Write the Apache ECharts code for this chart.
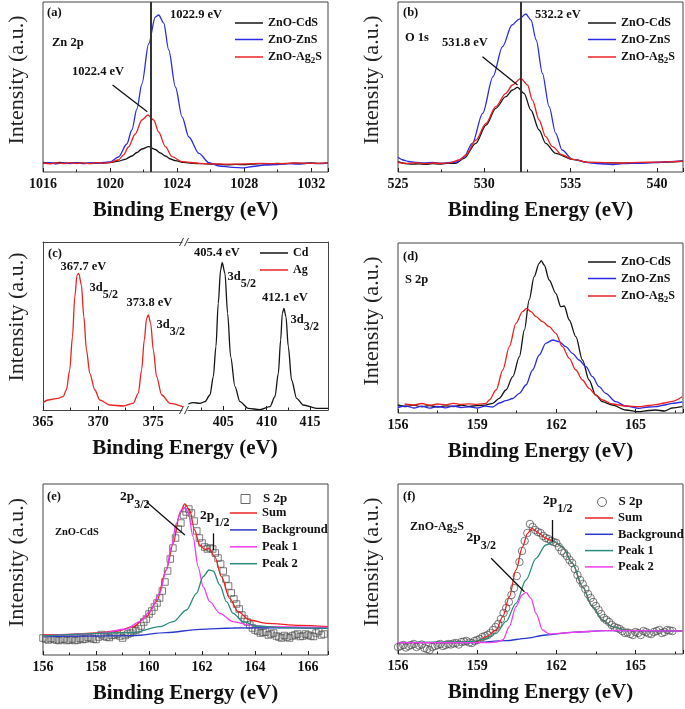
<!DOCTYPE html>
<html><head><meta charset="utf-8">
<script src="https://cdn.jsdelivr.net/npm/echarts@6/dist/echarts.min.js"></script>
<style>html,body{margin:0;padding:0;background:#fff}#c{width:685px;height:709px}</style>
</head><body><div id="c"></div>
<script>
const FONT = 'Liberation Serif';
const BLACK = '#151515', BLUE = '#2b2be6', RED = '#ea2222', MAG = '#f03cf0', TEAL = '#2a8c7c', BGBLUE = '#2a38cc';

// ---- (a) Zn 2p ----
const aCdS = [[1016,9.5],[1016.5,8.8],[1017,9.6],[1017.5,8.7],[1018,9.4],[1018.5,8.6],[1019,9.2],[1019.5,8.9],[1020,9.4],[1020.5,10.8],[1020.9,12.7],[1021.3,16],[1021.6,19.5],[1021.9,23],[1022.3,25.3],[1022.7,22.5],[1023,19],[1023.3,16],[1023.6,13],[1023.9,11.3],[1024.4,9.6],[1024.9,8.7],[1025.5,8.3],[1026,8],[1026.5,7.6],[1027,7.2],[1027.5,7.6],[1028,7.3],[1028.5,7.9],[1029,8.4],[1029.5,8],[1030,8.6],[1030.5,8.2],[1031,8.9],[1031.5,8.5],[1032,9],[1032.5,8.6],[1033,9.1]];
const aZnS = [[1016,8.4],[1016.4,9.3],[1016.8,8.2],[1017.2,9.1],[1017.6,8.5],[1018,9.4],[1018.4,8.3],[1018.8,9.2],[1019.2,8.6],[1019.6,9.5],[1020,10],[1020.5,15],[1021,28],[1021.3,42],[1021.6,63],[1021.9,88],[1022.3,128],[1022.7,155],[1022.9,157],[1023.2,149],[1023.5,122],[1023.9,85],[1024.3,55],[1024.7,35],[1025.3,18.7],[1025.9,9.3],[1026.5,6],[1027.3,4.7],[1028,4.2],[1028.5,5.5],[1029.2,7],[1030,7.5],[1030.6,8.4],[1031.2,7.8],[1031.8,8.9],[1032.4,8.3],[1033,8.8]];
const aAg2S = [[1016,9],[1016.4,8.2],[1016.8,9.2],[1017.2,8.4],[1017.6,9.4],[1018,8.5],[1018.4,9.1],[1018.8,8.3],[1019.2,9.3],[1019.6,8.8],[1020,9.6],[1020.5,12],[1020.8,17],[1021.1,25],[1021.5,38],[1021.9,52],[1022.26,57],[1022.6,52],[1022.9,40],[1023.3,25.3],[1023.7,15.3],[1024.3,10.3],[1025.3,8.7],[1026,8.2],[1027,7.8],[1028,8.1],[1029,8.6],[1030,8.3],[1031,9],[1032,8.7],[1033,9.2]];
const aLineX = 1022.4;
const aArrow = [[1022.22,60.3],[1020.15,87]];

// ---- (b) O 1s ----
const bCdS = [[525,10.3],[525.4,8.5],[525.8,7.8],[526.2,8.2],[526.6,7.6],[527,8.4],[527.4,7.8],[527.8,8.6],[528.35,8.7],[528.83,13.7],[529.5,28.7],[530.1,47],[530.66,63.7],[531.24,75.3],[531.63,82],[531.92,84.7],[532.3,78.7],[532.69,62],[533.17,42],[533.55,28.7],[534.13,18.7],[535.1,12.7],[536.06,9.7],[537,9.2],[538,8.9],[539,9.2],[540,9.6],[541,10.2],[541.5,10.6]];
const bZnS = [[525,14.7],[525.3,12],[525.6,10.5],[526,9.6],[526.5,9],[527,9.6],[527.5,8.8],[528,9.5],[528.4,10],[528.8,14.5],[529.3,28.7],[529.9,58.7],[530.5,95.3],[531.05,125.3],[531.6,147],[532,152.7],[532.4,158],[532.7,152],[533,132],[533.36,98.7],[533.75,65.3],[534.13,38.7],[534.5,22],[535.1,12.7],[536,9.3],[536.5,8.5],[537,8],[537.5,7.5],[538,8.3],[538.5,8.6],[539,8.7],[539.5,9.2],[540,9.5],[540.5,10],[541,10.7],[541.5,11.3]];
const bAg2S = [[525,9.3],[525.5,8.6],[526,9.2],[526.5,8.4],[527,9],[527.5,8.5],[528,9.3],[528.55,12],[528.93,17],[529.51,32],[530.09,48.7],[530.66,65.3],[531.24,78.7],[531.63,87],[532.11,93.7],[532.5,87],[532.78,72],[533.17,52],[533.55,35.3],[533.94,25.3],[534.52,17],[535.1,12.7],[536.06,9.7],[537,9.4],[538,9],[539,9.6],[540,9.9],[541,10.3],[541.5,10.8]];
const bLineX = 532.1;
const bArrow = [[531.92,87],[529.89,115.3]];

// ---- (c) Ag 3d / Cd 3d (broken axis) ----
const cAg = [[365,7.3],[365.45,10],[366.36,11.7],[366.82,13.3],[367.12,20],[367.42,40],[367.67,73],[367.88,113],[368.09,135],[368.24,136.7],[368.48,125],[368.7,93.3],[368.94,60],[369.24,36.7],[369.7,20],[370.15,10],[371.06,5],[372.27,4],[373.18,6.7],[373.64,16.7],[373.94,40],[374.18,70],[374.39,91.7],[374.55,95],[374.76,86.7],[375,60],[375.3,33.3],[375.76,15],[376.52,6.7],[377.67,3.3]];
const cCd = [[400.96,6],[401.54,7.3],[402.31,6.7],[402.88,8.3],[403.46,15],[403.85,33.3],[404.15,63.3],[404.42,106.7],[404.69,140],[404.88,147.3],[405.19,136.7],[405.5,96.7],[405.85,53.3],[406.35,23.3],[406.92,8.3],[407.88,1.7],[409.23,0.3],[410.38,3.3],[410.96,13.3],[411.35,36.7],[411.62,70],[411.81,96.7],[412,101.7],[412.23,93.3],[412.5,63.3],[412.88,30],[413.46,11.7],[414.23,5],[415.77,1.7],[417.08,1.7]];
const cTicksL = [365,370,375], cMinorL = [367.5,372.5];
const cTicksR = [405,410,415], cMinorR = [402.5,407.5,412.5];

// ---- (d) S 2p ----
const dCdS = [[156,8],[156.3,6.5],[156.6,7.8],[156.9,6.2],[157.2,7.5],[157.5,6],[157.8,7.2],[158.1,6.4],[158.4,7.8],[158.7,6.6],[159,7.4],[159.3,7.9],[159.59,9.7],[159.84,14.7],[160.09,23],[160.35,36.3],[160.6,56.3],[160.79,83],[160.97,113],[161.16,136.3],[161.35,149.7],[161.43,152.3],[161.54,148],[161.73,133],[161.98,119.7],[162.17,106.3],[162.3,107],[162.49,93],[162.74,76.3],[162.99,53],[163.24,33],[163.49,18],[163.75,11.3],[164.12,8],[164.63,3],[165.13,1.3],[165.5,2.5],[165.76,3],[166.1,2],[166.39,5],[166.77,6.3]];
const dZnS = [[156,5.5],[156.3,7],[156.6,5],[156.9,6.8],[157.2,4.8],[157.5,6.5],[157.8,5.2],[158.1,7],[158.4,5.5],[158.7,6.2],[159,5],[159.3,6.8],[159.59,6],[159.84,10],[160.09,12.3],[160.35,14.5],[160.6,19.7],[160.85,28],[161.1,43],[161.35,58],[161.6,69.7],[161.86,73],[162.11,71.3],[162.36,66.3],[162.61,59.7],[162.86,53],[163.12,46.3],[163.37,36.3],[163.62,26.3],[163.87,19.7],[164.25,11.3],[164.63,7],[165.13,4.7],[165.5,6],[165.76,6.3],[166.1,8],[166.39,9.7],[166.77,11]];
const dAg2S = [[156.25,9],[156.6,8],[156.9,9.5],[157.2,7.8],[157.5,9],[157.8,8.2],[158.1,9.6],[158.4,8.5],[158.7,9.2],[159,8.7],[159.34,9.6],[159.46,13],[159.72,23],[159.97,43],[160.22,66.3],[160.47,89.7],[160.72,101.3],[160.87,104.7],[161.04,101.3],[161.23,96.3],[161.48,91.3],[161.73,86.3],[161.98,79.7],[162.23,66.3],[162.49,54.7],[162.74,43],[162.99,33],[163.24,24.7],[163.49,18],[163.75,13],[164.12,9],[164.63,7],[165.13,6.3],[165.5,7.5],[165.76,8.3],[166.1,10],[166.39,11.7],[166.77,16.3]];

// ---- (e) ZnO-CdS fit ----
const eData = [[156,17],[156.2,15],[156.4,16],[156.6,14.5],[156.8,16],[157,15],[157.2,14.5],[157.4,16.5],[157.6,16],[157.8,17],[158,15.5],[158.2,20.5],[158.4,18],[158.6,19.5],[158.8,21],[159,17],[159.2,21],[159.4,24],[159.6,26],[159.8,33],[160,41],[160.2,48],[160.4,57],[160.6,73],[160.8,96],[161,117],[161.2,132],[161.4,143],[161.6,142],[161.8,124],[162,112],[162.2,106],[162.4,106],[162.6,97],[162.8,84],[163,69],[163.2,56],[163.4,46],[163.6,36],[163.8,30],[164,25],[164.2,22],[164.4,23],[164.6,21],[164.8,19],[165,17],[165.2,18],[165.4,19],[165.6,21],[165.8,19],[166,20],[166.2,18.5],[166.4,24],[166.6,21]];
const eDataB = [[156.1,16],[156.3,16.5],[156.5,15],[156.7,15.5],[156.9,14.5],[157.1,16],[157.3,15],[157.5,15.5],[157.7,17.5],[157.9,16],[158.1,18],[158.3,19],[158.5,17.5],[158.7,20],[158.9,19],[159.1,19.5],[159.3,22],[159.5,24.5],[159.7,29],[159.9,36],[160.1,44],[160.3,52],[160.5,64],[160.7,84],[160.9,107],[161.1,126],[161.3,140],[161.5,146],[161.7,134],[161.9,117],[162.1,108],[162.3,107],[162.5,102],[162.7,91],[162.9,76],[163.1,62],[163.3,51],[163.5,40],[163.7,33],[163.9,27],[164.1,24],[164.3,22.5],[164.5,20],[164.7,22],[164.9,18],[165.1,19.5],[165.3,17],[165.5,20],[165.7,18.5],[165.9,21],[166.1,19],[166.3,22],[166.5,20]];
const eSum = [[156,20],[157,20.5],[158,22],[158.8,24],[159.4,28.3],[159.9,38.3],[160.28,53.3],[160.65,85],[160.91,111.7],[161.16,141.7],[161.35,151],[161.53,145],[161.72,125],[161.91,110],[162.1,105.7],[162.26,106.7],[162.48,98.3],[162.73,78.3],[163.04,56.7],[163.36,43.3],[163.8,35],[164.43,31.7],[165.69,29.7],[166.75,28.3]];
const eBg = [[156,18.3],[159.4,19.3],[160.65,22.3],[161.91,25.7],[163.17,27],[164.43,27.3],[166.75,26.7]];
const ePeak1 = [[156,19],[158.14,21.7],[159.14,26],[159.65,33.3],[160.03,43.3],[160.4,61.7],[160.65,85],[160.84,108.3],[161.03,131.7],[161.22,145],[161.35,147.7],[161.47,143.3],[161.66,118.3],[161.85,88.3],[162.04,68.3],[162.29,53.3],[162.67,41.7],[163.17,33.3],[163.8,30],[164.43,28.3],[166.75,27.7]];
const ePeak2 = [[156,19],[159.4,22.3],[160.4,28.3],[160.91,33.3],[161.41,45],[161.79,61.7],[162.04,78.3],[162.26,85],[162.42,84],[162.67,70],[162.92,53.3],[163.17,41.7],[163.55,33.3],[164.05,29],[165.06,27.3],[166.75,26.7]];
const eArrow1 = [[161.35,120],[159.9,153.3]];
const eArrow2 = [[162.42,105],[162.42,121.7]];

// ---- (f) ZnO-Ag2S fit ----
const fData = [[156,7],[156.2,9],[156.4,8],[156.6,10],[156.8,8.5],[157,6],[157.2,4],[157.4,8],[157.6,10],[157.8,9],[158,9.5],[158.2,11],[158.4,12],[158.6,13],[158.8,11],[159,14],[159.2,17],[159.4,19],[159.6,24],[159.8,30],[160,41],[160.2,52],[160.4,66],[160.6,92],[160.8,113],[161,130],[161.2,124],[161.4,121],[161.6,116],[161.8,113],[162,111],[162.2,103],[162.4,98],[162.6,91],[162.8,79],[163,70],[163.2,60],[163.4,52],[163.6,44],[163.8,36],[164,32],[164.2,27],[164.4,25],[164.6,21],[164.8,20],[165,22],[165.2,19],[165.4,22],[165.6,20],[165.8,23],[166,21],[166.2,24],[166.4,23]];
const fDataB = [[156.1,8],[156.3,6.5],[156.5,9],[156.7,7],[156.9,9.5],[157.1,5],[157.3,7],[157.5,9],[157.7,8],[157.9,10],[158.1,10.5],[158.3,9.5],[158.5,12.5],[158.7,11.5],[158.9,13],[159.1,15],[159.3,18],[159.5,21],[159.7,27],[159.9,35],[160.1,46],[160.3,59],[160.5,78],[160.7,103],[160.9,121],[161.1,127],[161.3,122],[161.5,118],[161.7,115],[161.9,112],[162.1,107],[162.3,101],[162.5,94],[162.7,85],[162.9,74],[163.1,65],[163.3,56],[163.5,48],[163.7,40],[163.9,34],[164.1,29],[164.3,26],[164.5,23],[164.7,21.5],[164.9,19],[165.1,21],[165.3,23],[165.5,20.5],[165.7,22],[165.9,24],[166.1,22],[166.3,23.5]];
const fSum = [[156,11.3],[157,11.3],[158,11.5],[159,12.5],[159.34,17.3],[159.72,24],[159.97,37.3],[160.22,57.3],[160.47,84],[160.72,107.3],[160.91,120.7],[161.07,125.7],[161.35,120.7],[161.6,115.7],[161.91,112.3],[162.23,107.3],[162.61,90.7],[162.99,67.3],[163.37,47.3],[163.75,34],[164.12,27.3],[164.63,24],[165.13,23.3],[166.39,23.3],[166.77,23.3]];
const fBg = [[156,11.3],[158.83,11.3],[160.09,13.3],[160.85,15.7],[161.6,19],[162.61,21.7],[163.87,23.3],[165.13,23.3],[166.39,23],[166.77,23]];
const fPeak1 = [[156,11.3],[158.83,12.3],[159.34,15.7],[159.72,20.7],[160.09,32.3],[160.47,50.7],[160.85,74],[161.23,95.7],[161.6,109],[161.92,112.3],[162.23,107.3],[162.61,90.7],[162.99,67.3],[163.37,47.3],[163.75,34],[164.12,27.3],[164.63,24],[165.13,23.3],[166.77,23]];
const fPeak2 = [[156,11.3],[159.4,11.3],[159.72,11.8],[159.97,14],[160.22,27.3],[160.47,47.3],[160.7,59],[160.85,61.7],[161.04,55.7],[161.23,40.7],[161.48,24],[161.73,20],[162.2,20.8],[162.61,21.7],[163.87,23.3],[165.13,23.3],[166.77,23]];
const fArrow1 = [[160.79,62.3],[159.53,95.7]];
const fArrow2 = [[161.86,112.3],[161.86,134]];

// ---------------- build ----------------
const XNAME = 'Binding Energy (eV)', YNAME = 'Intensity (a.u.)';
const tickStyle = {color:'#222', width:1};
const labelStyle = {show:true, margin:5, fontSize:14, fontWeight:'bold', fontFamily:FONT, color:'#111', formatter: v => String(v), showMaxLabel:false};
const xNameStyle = {fontSize:21, fontWeight:'bold', fontFamily:FONT, color:'#111'};
const yNameStyle = {fontSize:22, fontFamily:FONT, color:'#222', padding:[0,0,0,14]};

function gridBox(left, top, width, height, border) {
  return {left, top, width, height, show: border, borderColor:'#444', borderWidth:1, backgroundColor:'rgba(0,0,0,0)', outerBoundsMode:'none', containLabel:false};
}
function xStd(gridIndex, min, max, interval) {
  return {type:'value', gridIndex, min, max, interval, position:'bottom',
    axisLine:{show:false, onZero:false}, axisTick:{show:true, inside:true, length:4, lineStyle:tickStyle},
    minorTick:{show:true, splitNumber:2, length:2.5, lineStyle:tickStyle},
    splitLine:{show:false}, minorSplitLine:{show:false}, axisLabel:labelStyle,
    name:XNAME, nameLocation:'middle', nameGap:28, nameMoveOverlap:false, nameTextStyle:xNameStyle};
}
function yStd(gridIndex, max, extra) {
  return Object.assign({type:'value', gridIndex, min:0, max, axisLine:{show:false, onZero:false}, axisTick:{show:false},
    axisLabel:{show:false}, splitLine:{show:false}, name:YNAME, nameLocation:'middle', nameGap:15, nameMoveOverlap:false,
    nameTextStyle:yNameStyle}, extra || {});
}
function xPlain(gridIndex, min, max, position, ticks, minor, withLabel, name) {
  const ax = {type:'value', gridIndex, min, max, position,
    axisLine:{show: !minor, onZero:false, lineStyle:{color:'#444', width:1}},
    axisTick:{show: !!ticks, inside:true, length: minor ? 2.5 : 4, lineStyle:tickStyle, customValues: ticks || []},
    splitLine:{show:false},
    axisLabel: withLabel ? Object.assign({}, labelStyle, {customValues: ticks, showMaxLabel:true, showMinLabel:true}) : {show:false}};
  if (name) { Object.assign(ax, {name, nameLocation:'middle', nameGap:28, nameMoveOverlap:false, nameTextStyle:Object.assign({}, xNameStyle, {padding:[0,0,0,145]})}); }
  return ax;
}
function line(name, data, color, xi, yi, extra) {
  return Object.assign({type:'line', name, data, xAxisIndex:xi, yAxisIndex:yi, symbol:'none', showSymbol:false,
    smooth:0.3, smoothMonotone:'x', lineStyle:{color, width:1.3}, itemStyle:{color}, silent:true, animation:false}, extra || {});
}
function arrowML(pairs) {
  return {markLine:{silent:true, animation:false, symbol:['none','arrow'], symbolSize:[0,8], label:{show:false},
    lineStyle:{color:'#111', width:1.3, type:'solid'},
    data: pairs.map(p => [{coord:p[0]}, {coord:p[1]}])}};
}
function vlineML(x) {
  return {markLine:{silent:true, animation:false, symbol:'none', label:{show:false},
    lineStyle:{color:'#333', width:2, type:'solid'}, data:[{xAxis:x}]}};
}

const grids = [
  gridBox(43, 2, 285, 170, true),    // a
  gridBox(398, 2, 285, 170, true),   // b
  gridBox(43, 242, 139, 168, false), // c left
  gridBox(188, 242, 140, 168, false),// c right
  gridBox(398, 243, 285, 170, true), // d
  gridBox(43, 484, 285, 171, true),  // e
  gridBox(398, 484, 285, 170, true)  // f
];
const xAxes = [
  xStd(0, 1016, 1033, 4),
  xStd(1, 525, 541.5, 5),
  xPlain(2, 365, 377.6, 'bottom', cTicksL, false, true, XNAME),
  xPlain(2, 365, 377.6, 'bottom', cMinorL, true, false),
  xPlain(2, 365, 377.6, 'top', null, false, false),
  xPlain(3, 400.93, 417.08, 'bottom', cTicksR, false, true),
  xPlain(3, 400.93, 417.08, 'bottom', cMinorR, true, false),
  xPlain(3, 400.93, 417.08, 'top', null, false, false),
  xStd(4, 156, 166.8, 3),
  xStd(5, 156, 166.75, 2),
  xStd(6, 156, 166.8, 3)
];
const yAxes = [
  yStd(0, 170), yStd(1, 170),
  yStd(2, 168, {position:'left', axisLine:{show:true, onZero:false, lineStyle:{color:'#444'}}, nameTextStyle:Object.assign({}, yNameStyle, {padding:[0,0,0,18]})}),
  {type:'value', gridIndex:3, min:0, max:168, position:'right', axisLine:{show:true, onZero:false, lineStyle:{color:'#444'}}, axisTick:{show:false}, axisLabel:{show:false}, splitLine:{show:false}},
  yStd(4, 170), yStd(5, 171), yStd(6, 170)
];

const scatterStyle = {color:'rgba(0,0,0,0)', borderColor:'#484848', borderWidth:0.9};
const series = [
  line('a:ZnO-CdS', aCdS, BLACK, 0, 0, vlineML(aLineX)),
  line('a:ZnO-ZnS', aZnS, BLUE, 0, 0),
  line('a:ZnO-Ag2S', aAg2S, RED, 0, 0, arrowML([aArrow])),
  line('b:ZnO-CdS', bCdS, BLACK, 1, 1, vlineML(bLineX)),
  line('b:ZnO-ZnS', bZnS, BLUE, 1, 1),
  line('b:ZnO-Ag2S', bAg2S, RED, 1, 1, arrowML([bArrow])),
  line('c:Ag', cAg, RED, 2, 2),
  line('c:Cd', cCd, BLACK, 5, 3),
  line('d:ZnO-CdS', dCdS, BLACK, 8, 4),
  line('d:ZnO-ZnS', dZnS, BLUE, 8, 4),
  line('d:ZnO-Ag2S', dAg2S, RED, 8, 4),
  {type:'scatter', name:'e:S 2p', data:eData.concat(eDataB), xAxisIndex:9, yAxisIndex:5, symbol:'rect', symbolSize:6.5, itemStyle:scatterStyle, silent:true, animation:false},
  line('e:Sum', eSum, RED, 9, 5, arrowML([eArrow1, eArrow2])),
  line('e:Background', eBg, BGBLUE, 9, 5),
  line('e:Peak 1', ePeak1, MAG, 9, 5),
  line('e:Peak 2', ePeak2, TEAL, 9, 5),
  {type:'scatter', name:'f:S 2p', data:fData.concat(fDataB), xAxisIndex:10, yAxisIndex:6, symbol:'circle', symbolSize:7.5, itemStyle:scatterStyle, silent:true, animation:false},
  line('f:Sum', fSum, RED, 10, 6, arrowML([fArrow1, fArrow2])),
  line('f:Background', fBg, BGBLUE, 10, 6),
  line('f:Peak 1', fPeak1, TEAL, 10, 6),
  line('f:Peak 2', fPeak2, MAG, 10, 6)
];

function legendFmt(name) {
  const n = name.slice(2);
  if (n.indexOf('Ag2S') >= 0) return '{n|ZnO-Ag}{s|2}{n|S}';
  return '{n|' + n + '}';
}
function legendBox(left, top, names, size, gap, itemWidth, extra) {
  return Object.assign({left, top, orient:'vertical', padding:0, itemGap:gap, itemWidth, itemHeight:1.5, icon:'rect',
    selectedMode:false, data:names, formatter:legendFmt,
    textStyle:{fontFamily:FONT, fontSize:size, fontWeight:'bold', color:'#111', lineHeight:14,
      rich:{n:{fontFamily:FONT, fontSize:size, fontWeight:'bold', color:'#111', lineHeight:14},
            s:{fontFamily:FONT, fontSize:size*0.75, fontWeight:'bold', color:'#111', lineHeight:14, padding:[7,0,0,0]}}}}, extra || {});
}
const symLegendItem = (name, icon) => [{name, icon, itemStyle:{color:'rgba(0,0,0,0)', borderColor:'#444', borderWidth:1}}];
const symText = {fontFamily:FONT, fontSize:12.5, fontWeight:'bold', color:'#111', lineHeight:14};
const legends = [
  legendBox(235, 16, ['a:ZnO-CdS','a:ZnO-ZnS','a:ZnO-Ag2S'], 12, 2.5, 28),
  legendBox(588, 16, ['b:ZnO-CdS','b:ZnO-ZnS','b:ZnO-Ag2S'], 12, 2.5, 28),
  legendBox(260, 246, ['c:Cd','c:Ag'], 12, 3, 28),
  legendBox(588, 255, ['d:ZnO-CdS','d:ZnO-ZnS','d:ZnO-Ag2S'], 12, 2.5, 28),
  legendBox(240.5, 492, symLegendItem('e:S 2p','rect'), 12.5, 2, 9, {itemHeight:9, icon:null, textStyle:Object.assign({}, symText, {rich:{n:Object.assign({}, symText, {fontSize:13, padding:[0,0,0,8]})}})}),
  legendBox(230, 506, ['e:Sum','e:Background','e:Peak 1','e:Peak 2'], 12.5, 2.9, 27),
  legendBox(597, 495, symLegendItem('f:S 2p','circle'), 12.5, 2, 9, {itemHeight:9, icon:null, textStyle:Object.assign({}, symText, {rich:{n:Object.assign({}, symText, {fontSize:13, padding:[0,0,0,7]})}})}),
  legendBox(585, 511, ['f:Sum','f:Background','f:Peak 1','f:Peak 2'], 12.5, 2.3, 28)
];

function T(x, y, text, size) {
  return {type:'text', x, y, silent:true, style:{text, fill:'#111', fontSize:size || 12.5, fontWeight:'bold', fontFamily:FONT, verticalAlign:'middle', align:'left'}};
}
function R(x, y, text, subSize, pad, size) {
  return {type:'text', x, y, silent:true, style:{text, fill:'#111', fontSize:size, fontWeight:'bold', fontFamily:FONT, verticalAlign:'middle', align:'left',
    rich:{s:{fontSize:subSize, fontWeight:'bold', fontFamily:FONT, fill:'#111', padding:[pad,0,0,0]}}}};
}
const brk = (x, y) => ({type:'polyline', silent:true, shape:{points:[[x, y + 4], [x + 4, y - 4]]}, style:{stroke:'#333', lineWidth:1, fill:null}});
const graphic = [
  T(47, 13, '(a)'), T(52, 43, 'Zn 2p'), T(72, 72, '1022.4 eV'), T(170, 15, '1022.9 eV'),
  T(403, 13, '(b)'), T(405, 38, 'O 1s'), T(442, 43, '531.8 eV'), T(535, 15, '532.2 eV'),
  T(48, 254, '(c)'), T(60.5, 267, '367.7 eV'), R(89.5, 288, '3d{s|5/2}', 12, 14, 12.5),
  T(126.5, 303, '373.8 eV'), R(156.5, 325, '3d{s|3/2}', 12, 14, 12.5),
  T(194, 253, '405.4 eV'), R(227.5, 277, '3d{s|5/2}', 12, 14, 12.5),
  T(262, 298, '412.1 eV'), R(290.5, 320, '3d{s|3/2}', 12, 14, 12.5),
  brk(179.5, 410), brk(184.5, 410), brk(179.5, 242), brk(184.5, 242),
  T(403, 257, '(d)'), T(405, 280, 'S 2p'),
  T(47, 497, '(e)'), T(55, 532, 'ZnO-CdS', 10.5),
  R(120, 497, '2p{s|3/2}', 12, 16, 13.5), R(200, 516, '2p{s|1/2}', 12, 14, 13.5),
  T(403, 497, '(f)'), R(410, 527, 'ZnO-Ag{s|2}S', 9, 7, 12),
  R(466.5, 538, '2p{s|3/2}', 12, 16, 13.5), R(543, 501, '2p{s|1/2}', 12, 15, 13.5)
];

const chart = echarts.init(document.getElementById('c'), null, {renderer:'canvas'});
chart.setOption({
  animation:false,
  textStyle:{fontFamily:FONT},
  grid:grids, xAxis:xAxes, yAxis:yAxes, legend:legends, series, graphic
});
</script></body></html>
